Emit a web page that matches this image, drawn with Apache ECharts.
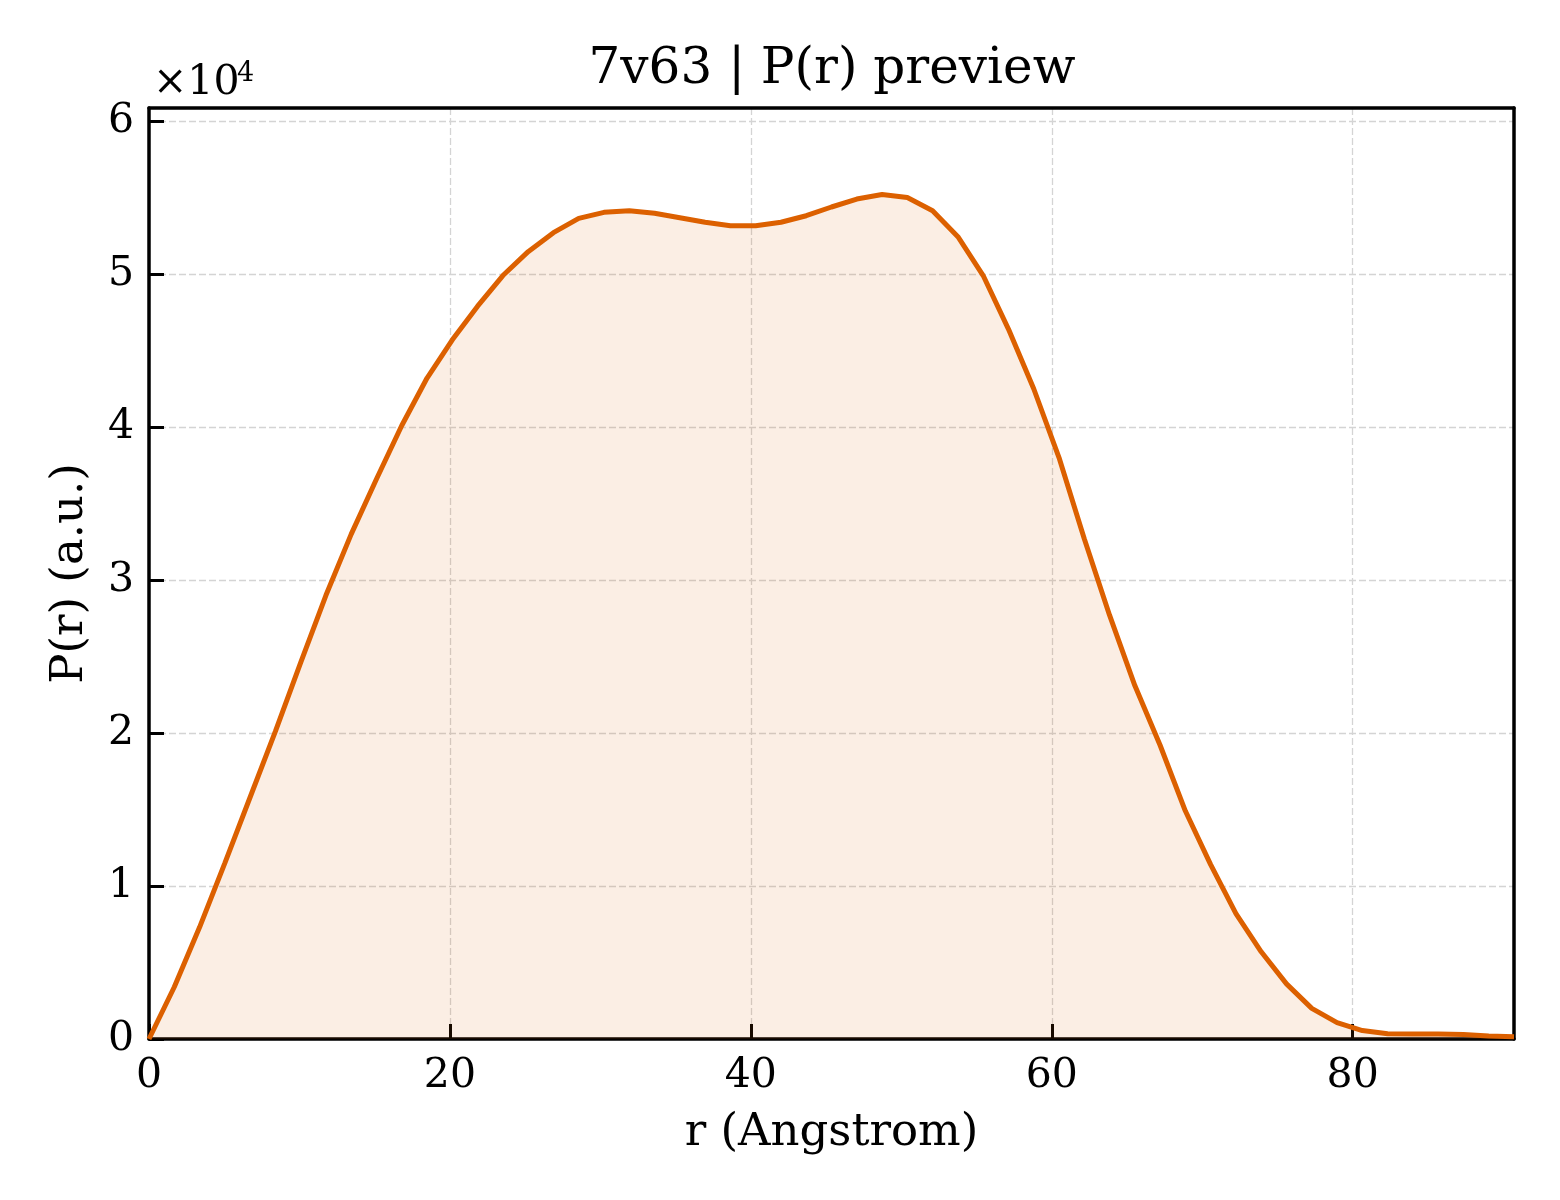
<!DOCTYPE html>
<html>
<head>
<meta charset="utf-8">
<script src="https://cdn.jsdelivr.net/npm/echarts@6/dist/echarts.min.js"></script>
<style>
  html, body { margin: 0; padding: 0; background: #fff; }
  #chart { width: 1560px; height: 1200px; }
</style>
</head>
<body>
<div id="chart"></div>
<script>
// r (Angstrom) sample positions
var rValues = [0, 1.68, 3.36, 5.04, 6.72, 8.4, 10.08, 11.76, 13.44, 15.12, 16.8, 18.48, 20.16,
  21.84, 23.52, 25.2, 26.88, 28.56, 30.24, 31.92, 33.6, 35.28, 36.96, 38.64, 40.32, 42.0,
  43.68, 45.36, 47.04, 48.72, 50.4, 52.08, 53.76, 55.44, 57.12, 58.8, 60.48, 62.16, 63.84,
  65.52, 67.2, 68.88, 70.56, 72.24, 73.92, 75.6, 77.28, 78.96, 80.64, 82.32, 84.0, 85.68,
  87.36, 89.04, 90.72];
// P(r), arbitrary units
var pValues = [0, 3400, 7300, 11500, 15800, 20100, 24600, 29000, 33000, 36600, 40100, 43200, 45700,
  47900, 49900, 51460, 52700, 53640, 54030, 54140, 53970, 53680, 53380, 53160, 53160, 53380,
  53810, 54380, 54900, 55200, 55000, 54140, 52440, 49900, 46400, 42500, 38000, 32700, 27700,
  23100, 19200, 14900, 11400, 8200, 5700, 3600, 2000, 1070, 550, 350, 330, 330,
  300, 200, 150];
var xTicks = [0, 20, 40, 60, 80];
var yTicks = [0, 1, 2, 3, 4, 5, 6]; // x 10^4

var serif = '"DejaVu Serif", "Liberation Serif", serif';

var points = [];
for (var i = 0; i < rValues.length; i++) {
  points.push([rValues[i], pValues[i]]);
}

var chart = echarts.init(document.getElementById('chart'));

var gridLine = {show: true, lineStyle: {color: '#d4d4d4', width: 1.3, type: [7, 3]}};
var tickStyle = {show: true, inside: true, length: 15, lineStyle: {color: '#000', width: 3}};
var frame = {show: true, onZero: false, lineStyle: {color: '#000', width: 3.5}};

var option = {
  backgroundColor: '#fff',
  animation: false,
  grid: {left: 149, right: 46, top: 108, bottom: 161},
  graphic: [
    {type: 'text', x: 832, y: 70, style: {text: '7v63 | P(r) preview', font: '50px ' + serif,
      fill: '#000', align: 'center', verticalAlign: 'middle'}},
    {type: 'text', x: 153, y: 83, style: {text: '\u00d710', font: '41px ' + serif,
      fill: '#000', align: 'left', verticalAlign: 'middle'}},
    {type: 'text', x: 237, y: 74, style: {text: '4', font: '27px ' + serif,
      fill: '#000', align: 'left', verticalAlign: 'middle'}}
  ],
  xAxis: [{
    type: 'value', min: 0, max: 90.72, interval: 20,
    name: 'r (Angstrom)', nameLocation: 'middle', nameGap: 72,
    nameTextStyle: {fontFamily: serif, fontSize: 45, color: '#000'},
    axisLine: frame,
    axisTick: tickStyle,
    axisLabel: {fontFamily: serif, fontSize: 41, color: '#000', margin: 17, showMaxLabel: false,
      formatter: function (v) { return xTicks.indexOf(v) >= 0 ? String(v) : ''; }},
    splitLine: gridLine
  }, {
    type: 'value', position: 'top', min: 0, max: 90.72,
    axisLine: frame,
    axisTick: {show: false}, axisLabel: {show: false}, splitLine: {show: false}
  }],
  yAxis: [{
    type: 'value', min: 0, max: 60850, interval: 10000,
    name: 'P(r) (a.u.)', nameLocation: 'middle', nameGap: 56,
    nameTextStyle: {fontFamily: serif, fontSize: 45, color: '#000'},
    axisLine: frame,
    axisTick: tickStyle,
    axisLabel: {fontFamily: serif, fontSize: 41, color: '#000', margin: 15, showMaxLabel: false,
      formatter: function (v) {
        var t = v / 10000;
        return yTicks.indexOf(t) >= 0 ? String(t) : '';
      }},
    splitLine: gridLine
  }, {
    type: 'value', position: 'right', min: 0, max: 60850,
    axisLine: frame,
    axisTick: {show: false}, axisLabel: {show: false}, splitLine: {show: false}
  }],
  series: [{
    type: 'line',
    data: points,
    symbol: 'none',
    smooth: false,
    lineStyle: {color: '#dc6000', width: 5},
    itemStyle: {color: '#dc6000'},
    areaStyle: {color: 'rgba(217,95,2,0.15)', origin: 'start'}
  }]
};

chart.setOption(option);
</script>
</body>
</html>
